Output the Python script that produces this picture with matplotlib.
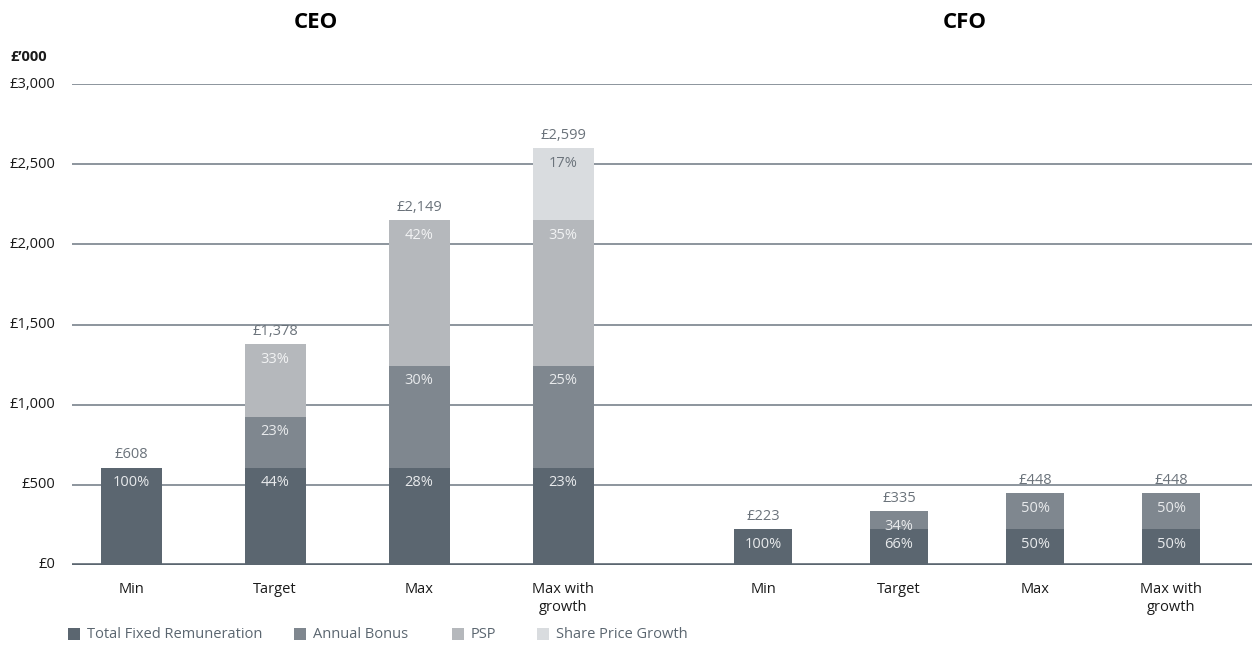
import matplotlib
matplotlib.use("Agg")
import matplotlib.pyplot as plt
from matplotlib.patches import Rectangle

plt.rcParams["font.family"] = ["Open Sans", "DejaVu Sans"]

# Remuneration scenarios (£'000)
scenarios = ["Min", "Target", "Max", "Max with\ngrowth"]
roles = ["CEO", "CFO"]
components = ["Total Fixed Remuneration", "Annual Bonus", "PSP", "Share Price Growth"]

ceo_fixed = [608, 608, 608, 608]
ceo_bonus = [0, 317, 635, 635]
ceo_psp = [0, 453, 906, 906]
ceo_growth = [0, 0, 0, 450]
ceo_totals = [608, 1378, 2149, 2599]
ceo_pct = [["100%"], ["44%", "23%", "33%"], ["28%", "30%", "42%"],
           ["23%", "25%", "35%", "17%"]]

cfo_fixed = [223, 223, 223, 223]
cfo_bonus = [0, 112, 225, 225]
cfo_psp = [0, 0, 0, 0]
cfo_growth = [0, 0, 0, 0]
cfo_totals = [223, 335, 448, 448]
cfo_pct = [["100%"], ["66%", "34%"], ["50%", "50%"], ["50%", "50%"]]

y_ticks = [0, 500, 1000, 1500, 2000, 2500, 3000]
y_tick_labels = ["£0", "£500", "£1,000", "£1,500", "£2,000", "£2,500", "£3,000"]

colors = ["#5b6670", "#7f878f", "#b5b8bc", "#d9dcdf"]
pct_colors = ["#e8eaec", "#e8eaec", "#f2f3f4", "#6b737b"]
grid_color = "#8c959d"
value_color = "#6b737b"
text_color = "#1a1a1a"

W, H = 1252, 645
fig = plt.figure(figsize=(W / 100, H / 100), dpi=100)
ax = fig.add_axes([72 / W, 1 - 565 / H, 1 - 72 / W, (565 - 84) / H])

ax.set_xlim(0, 1180)
ax.set_ylim(0, 3000)

# horizontal rules
for t in y_ticks[1:]:
    ax.axhline(t, color=grid_color, lw=1.4, zorder=0)
ax.axhline(0, color="#5b6670", lw=2.6, zorder=3)

groups = [
    (59, 144, 61, [ceo_fixed, ceo_bonus, ceo_psp, ceo_growth], ceo_totals, ceo_pct),
    (691, 136, 58, [cfo_fixed, cfo_bonus, cfo_psp, cfo_growth], cfo_totals, cfo_pct),
]

xtick_pos = []
xtick_lab = []
for start, step, width, series, totals, pcts in groups:
    xs = [start + step * i for i in range(len(scenarios))]
    bottoms = [0] * len(xs)
    seg_idx = [0] * len(xs)
    for ci, vals in enumerate(series):
        ax.bar(xs, vals, width=width, bottom=bottoms, color=colors[ci],
               linewidth=0, zorder=2)
        for i, v in enumerate(vals):
            if v > 0:
                top = bottoms[i] + v
                ax.annotate(pcts[i][seg_idx[i]], (xs[i], top), xytext=(0, -15),
                            textcoords="offset pixels", ha="center", va="center",
                            fontsize=10.5, color=pct_colors[ci], zorder=4)
                seg_idx[i] += 1
        bottoms = [b + v for b, v in zip(bottoms, vals)]
    for i, tot in enumerate(totals):
        ax.annotate(f"£{tot:,}", (xs[i], bottoms[i]), xytext=(0, 13),
                    textcoords="offset pixels", ha="center", va="center",
                    fontsize=10.5, color=value_color, zorder=4)
    xtick_pos += xs
    xtick_lab += scenarios

ax.set_xticks(xtick_pos)
ax.set_xticklabels(xtick_lab, fontsize=10.5, color=text_color, linespacing=1.3)
ax.tick_params(axis="x", length=0, pad=12)
ax.set_yticks(y_ticks)
ax.set_yticklabels([])
ax.tick_params(axis="y", length=0)
for s in ax.spines.values():
    s.set_visible(False)

# currency labels, right aligned just left of the rules
for t, lab in zip(y_ticks, y_tick_labels):
    ax.annotate(lab, (0, t), xycoords=("axes fraction", "data"),
                xytext=(-17, 0), textcoords="offset pixels",
                ha="right", va="center", fontsize=10.5, color=text_color)
fig.text(10 / W, 1 - 57 / H, "£’000", ha="left", va="center",
         fontsize=10.5, fontweight="bold", color=text_color)

# role headings
fig.text(316 / W, 1 - 23 / H, roles[0], ha="center", va="center",
         fontsize=16, fontweight="bold", color="#000000")
fig.text(965 / W, 1 - 23 / H, roles[1], ha="center", va="center",
         fontsize=16, fontweight="bold", color="#000000")

# legend row
legend_x = [68, 294, 452, 537]
legend_y = 634
for lx, c, lab in zip(legend_x, colors, components):
    fig.patches.append(Rectangle((lx / W, 1 - (legend_y + 6) / H), 12 / W, 12 / H,
                                 transform=fig.transFigure, facecolor=c,
                                 edgecolor="none"))
    fig.text((lx + 19) / W, 1 - legend_y / H, lab, ha="left", va="center",
             fontsize=10.5, color="#5b6670")

fig.savefig("out.png", dpi=100)
